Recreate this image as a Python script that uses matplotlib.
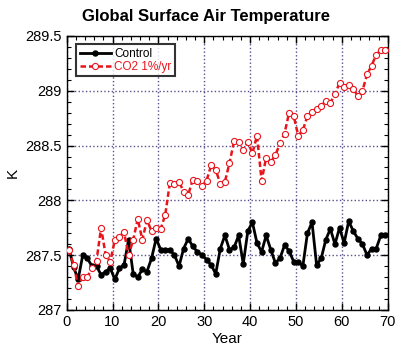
import numpy as np
import matplotlib
matplotlib.use("Agg")
import matplotlib.pyplot as plt
from matplotlib.ticker import MultipleLocator

plt.rcParams['font.family'] = ['Liberation Sans', 'DejaVu Sans']

years = np.arange(70) + 0.5

control = [
    287.56, 287.39, 287.28, 287.50, 287.47, 287.40, 287.40, 287.32, 287.35, 287.38,
    287.28, 287.38, 287.41, 287.64, 287.33, 287.30, 287.37, 287.35, 287.47, 287.65,
    287.55, 287.55, 287.55, 287.50, 287.40, 287.56, 287.65, 287.58, 287.53, 287.50,
    287.46, 287.41, 287.33, 287.56, 287.68, 287.55, 287.57, 287.68, 287.42, 287.72,
    287.80, 287.61, 287.53, 287.68, 287.55, 287.43, 287.47, 287.59, 287.54, 287.44,
    287.44, 287.40, 287.70, 287.80, 287.41, 287.47, 287.64, 287.74, 287.60, 287.75,
    287.61, 287.81, 287.72, 287.65, 287.60, 287.50, 287.56, 287.56, 287.68, 287.68,
]

co2 = [
    287.55, 287.41, 287.22, 287.30, 287.30, 287.38, 287.45, 287.75, 287.50, 287.44,
    287.64, 287.67, 287.71, 287.50, 287.64, 287.83, 287.64, 287.82, 287.72, 287.75,
    287.74, 287.87, 288.16, 288.15, 288.17, 288.08, 288.05, 288.19, 288.18, 288.13,
    288.18, 288.32, 288.28, 288.15, 288.17, 288.34, 288.54, 288.53, 288.46, 288.53,
    288.43, 288.59, 288.18, 288.39, 288.35, 288.41, 288.52, 288.61, 288.80, 288.77,
    288.59, 288.64, 288.77, 288.81, 288.83, 288.86, 288.91, 288.89, 288.97, 289.07,
    289.03, 289.05, 289.02, 288.95, 289.00, 289.15, 289.23, 289.33, 289.37, 289.37,
]

labels = ["Control", "CO2 1%/yr"]
title = "Global Surface Air Temperature"

fig = plt.figure(figsize=(4.03, 3.51), dpi=100)
ax = fig.add_axes([0.1655, 0.117, 0.7965, 0.7805])

grid_color = '#5a4f8c'
ax.grid(True, which='major', color=grid_color, linestyle=':', linewidth=1.0)
ax.set_axisbelow(True)

ax.plot(years, control, color='black', linewidth=2.0, marker='o', markersize=3.6,
        markerfacecolor='black', markeredgecolor='black', label=labels[0], zorder=3)
ax.plot(years, co2, color='#e8141c', linewidth=1.8, linestyle=(0, (2.2, 1.2)), marker='o',
        markersize=4.4, markerfacecolor='white', markeredgecolor='#e8141c',
        markeredgewidth=0.8, label=labels[1], zorder=4)

ax.set_xlim(0, 70)
ax.set_ylim(287, 289.5)
ax.xaxis.set_major_locator(MultipleLocator(10))
ax.xaxis.set_minor_locator(MultipleLocator(2))
ax.yaxis.set_major_locator(MultipleLocator(0.5))
ax.yaxis.set_minor_locator(MultipleLocator(0.1))
ax.set_yticks([287, 287.5, 288, 288.5, 289, 289.5])
ax.set_yticklabels(["287", "287.5", "288", "288.5", "289", "289.5"])
ax.tick_params(which='both', direction='in', top=True, right=True, labelsize=10.5)
ax.tick_params(which='major', length=5, width=1)
ax.tick_params(which='minor', length=3, width=0.8)
for s in ax.spines.values():
    s.set_linewidth(1.0)

ax.set_xlabel("Year", fontsize=11, labelpad=2)
ax.set_ylabel("K", fontsize=11, labelpad=4)
fig.suptitle(title, fontsize=12, fontweight='bold', x=0.51, y=0.975)

leg = ax.legend(loc='upper left', bbox_to_anchor=(0.03, 0.97), numpoints=1,
                handlelength=2.6, fontsize=8.5, frameon=True, fancybox=False,
                borderpad=0.3, labelspacing=0.1, handletextpad=0.3, borderaxespad=0)
leg.get_frame().set_edgecolor('black')
leg.get_frame().set_linewidth(1.5)
for txt, c in zip(leg.get_texts(), ['black', '#e8141c']):
    txt.set_color(c)

fig.savefig("out.png", dpi=100)
